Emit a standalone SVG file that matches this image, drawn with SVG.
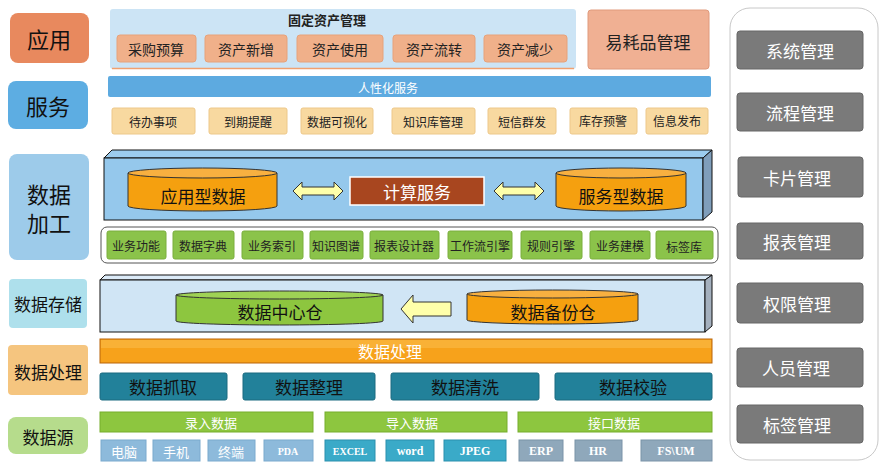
<svg xmlns="http://www.w3.org/2000/svg" width="882" height="467" viewBox="0 0 882 467">
<style>
text{font-family:"Noto Sans CJK SC","Noto Sans",sans-serif;text-anchor:middle;dominant-baseline:central}
.lab{fill:#111;font-size:22px}
.lab2{fill:#111;font-size:17px}
.btn{fill:#F0B08A;stroke:#E7A27A;stroke-width:1}
.svc{fill:#F8D9A0;stroke:#EDC88A;stroke-width:1}
.t14{font-size:14px;fill:#222}
.t12{font-size:12px;fill:#222}
.grn{fill:#8BC34A;stroke:#7AAE3C;stroke-width:1}
.teal{fill:#22819A;stroke:#1A6A80;stroke-width:1}
.gbar{fill:#8DC63F;stroke:#76AD2C;stroke-width:1}
.wt{fill:#fff;font-size:13px}
.en{font-family:"Liberation Serif",serif;font-weight:bold}
.mgr{fill:#7A7A7A;stroke:#666;stroke-width:1}
.arr{fill:#FFFFAA;stroke:#333;stroke-width:1}
</style>

<!-- left labels -->
<g id="lab-app"><rect x="10" y="13" width="79" height="50" rx="8" fill="#E8895E"/><text x="49" y="38" class="lab">应用</text></g>
<g id="lab-svc"><rect x="8" y="81" width="80" height="48" rx="8" fill="#5DADE2"/><text x="48" y="105" class="lab">服务</text></g>
<g id="lab-proc"><rect x="9" y="154" width="80" height="106" rx="8" fill="#9DCBEA"/><text x="49" y="193" class="lab">数据</text><text x="49" y="222" class="lab">加工</text></g>
<g id="lab-store"><rect x="9" y="279" width="78" height="49" rx="4" fill="#AEE0EC"/><text x="48" y="303" class="lab2">数据存储</text></g>
<g id="lab-handle"><rect x="8" y="345" width="80" height="50" rx="4" fill="#F5C57F"/><text x="48" y="371" class="lab2">数据处理</text></g>
<g id="lab-src"><rect x="8" y="417" width="80" height="37" rx="8" fill="#B6DC8C"/><text x="48" y="436" class="lab2">数据源</text></g>

<!-- application layer -->
<g id="fixed-asset">
<rect x="110" y="9" width="466" height="60" rx="3" fill="#CCE4F5"/>
<line x1="112" y1="68.5" x2="574" y2="68.5" stroke="#F0A070" stroke-width="1.5"/>
<text x="327" y="19" style="font-size:13px;font-weight:bold;fill:#222">固定资产管理</text>
<rect x="117" y="35" width="79" height="27" rx="3" class="btn"/><text x="156" y="49" class="t14">采购预算</text>
<rect x="205" y="35" width="82" height="27" rx="3" class="btn"/><text x="246" y="49" class="t14">资产新增</text>
<rect x="297" y="35" width="86" height="27" rx="3" class="btn"/><text x="340" y="49" class="t14">资产使用</text>
<rect x="393" y="35" width="82" height="27" rx="3" class="btn"/><text x="434" y="49" class="t14">资产流转</text>
<rect x="484" y="35" width="83" height="27" rx="3" class="btn"/><text x="525" y="49" class="t14">资产减少</text>
</g>
<g id="consumables"><rect x="588" y="10" width="121" height="59" rx="3" fill="#F0B093" stroke="#E09A7C"/><text x="648" y="41" style="font-size:17px;fill:#222">易耗品管理</text></g>

<!-- service layer -->
<g id="svc-bar"><rect x="108" y="76" width="603" height="21" rx="2" fill="#5DAAE0"/><text x="388" y="87" class="wt" style="font-size:12px">人性化服务</text></g>
<g id="svc-items">
<rect x="112" y="108" width="83" height="26" rx="2" class="svc"/><text x="153" y="121" class="t12">待办事项</text>
<rect x="209" y="108" width="78" height="26" rx="2" class="svc"/><text x="248" y="121" class="t12">到期提醒</text>
<rect x="301" y="108" width="72" height="26" rx="2" class="svc"/><text x="337" y="121" class="t12">数据可视化</text>
<rect x="392" y="108" width="83" height="26" rx="2" class="svc"/><text x="433" y="121" class="t12">知识库管理</text>
<rect x="488" y="108" width="68" height="26" rx="2" class="svc"/><text x="522" y="121" class="t12">短信群发</text>
<rect x="570" y="108" width="67" height="26" rx="2" class="svc"/><text x="603" y="120" class="t12">库存预警</text>
<rect x="646" y="108" width="62" height="26" rx="2" class="svc"/><text x="677" y="120" class="t12">信息发布</text>
</g>

<!-- data processing 3D box -->
<g id="proc-box">
<polygon points="104,158 112,150 712,150 703,158" fill="#9CCCEE" stroke="#111" stroke-width="1"/>
<rect x="104" y="158" width="599" height="62" fill="#95C8EC" stroke="#111" stroke-width="1"/>
<polygon points="703,158 712,150 712,212 703,220" fill="#7F9EBB" stroke="#111" stroke-width="1"/>
</g>
<g id="cyl-app">
<path d="M128,173 L128,206 A74.5,5 0 0 0 277,206 L277,173 Z" fill="#F5A00F" stroke="#333"/>
<ellipse cx="202.5" cy="173" rx="74.5" ry="5" fill="#F8B040" stroke="#333"/>
<text x="203" y="195" style="font-size:17px;fill:#111">应用型数据</text>
</g>
<g id="compute"><rect x="350" y="177" width="134" height="28" fill="#A8461F" stroke="#fff" stroke-width="1.5"/><text x="417" y="191" style="font-size:17px;fill:#fff">计算服务</text></g>
<g id="cyl-svc">
<path d="M556,173 L556,206 A65,5 0 0 0 686,206 L686,173 Z" fill="#F5A00F" stroke="#333"/>
<ellipse cx="621" cy="173" rx="65" ry="5" fill="#F8B040" stroke="#333"/>
<text x="621" y="195" style="font-size:17px;fill:#111">服务型数据</text>
</g>

<!-- tool row -->
<g id="tools">
<rect x="101" y="227" width="617" height="36" rx="6" fill="#fff" stroke="#555" stroke-width="1"/>
<rect x="107" y="231" width="59" height="28" rx="2" class="grn"/><text x="136" y="245" class="t12">业务功能</text>
<rect x="173" y="231" width="61" height="28" rx="2" class="grn"/><text x="203" y="245" class="t12">数据字典</text>
<rect x="242" y="231" width="61" height="28" rx="2" class="grn"/><text x="272" y="245" class="t12">业务索引</text>
<rect x="310" y="231" width="53" height="28" rx="2" class="grn"/><text x="336" y="245" class="t12">知识图谱</text>
<rect x="370" y="231" width="69" height="28" rx="2" class="grn"/><text x="404" y="245" class="t12">报表设计器</text>
<rect x="448" y="231" width="64" height="28" rx="2" class="grn"/><text x="480" y="245" class="t12">工作流引擎</text>
<rect x="521" y="231" width="61" height="28" rx="2" class="grn"/><text x="551" y="245" class="t12">规则引擎</text>
<rect x="590" y="231" width="60" height="28" rx="2" class="grn"/><text x="620" y="245" class="t12">业务建模</text>
<rect x="656" y="231" width="57" height="28" rx="2" class="grn"/><text x="684" y="246" class="t12">标签库</text>
</g>

<!-- storage 3D box -->
<g id="store-box">
<polygon points="100,280 105,275 712,275 705,280" fill="#DCEBF8" stroke="#111" stroke-width="1"/>
<rect x="100" y="280" width="605" height="52" fill="#D0E5F5" stroke="#111" stroke-width="1"/>
<polygon points="705,280 712,275 712,326 705,332" fill="#A4B0BE" stroke="#111" stroke-width="1"/>
</g>
<g id="cyl-center">
<path d="M176,295 L176,321 A103.5,4 0 0 0 383,321 L383,295 Z" fill="#8DC63F" stroke="#333"/>
<ellipse cx="279.5" cy="295" rx="103.5" ry="4" fill="#9FD255" stroke="#333"/>
<text x="280" y="311" style="font-size:17px;fill:#111">数据中心仓</text>
</g>
<g id="cyl-backup">
<path d="M467,294 L467,320 A85.5,4 0 0 0 638,320 L638,294 Z" fill="#F5A00F" stroke="#333"/>
<ellipse cx="552.5" cy="294" rx="85.5" ry="4" fill="#F8B040" stroke="#333"/>
<text x="553" y="311" style="font-size:17px;fill:#111">数据备份仓</text>
</g>

<!-- handling layer -->
<g id="handle-bar">
<rect x="100" y="339" width="612" height="24" fill="#F7A21B" stroke="#B9650A" stroke-width="1"/>
<rect x="101" y="340" width="610" height="8" fill="#FABA4A" opacity="0.6"/>
<text x="390" y="351" style="font-size:16px;fill:#fff">数据处理</text>
</g>
<g id="handle-items">
<rect x="100" y="373" width="127" height="27" rx="2" class="teal"/><text x="163" y="386" style="font-size:17px;fill:#111">数据抓取</text>
<rect x="243" y="373" width="132" height="27" rx="2" class="teal"/><text x="309" y="386" style="font-size:17px;fill:#111">数据整理</text>
<rect x="391" y="373" width="148" height="27" rx="2" class="teal"/><text x="465" y="386" style="font-size:17px;fill:#111">数据清洗</text>
<rect x="555" y="373" width="157" height="27" rx="2" class="teal"/><text x="633" y="386" style="font-size:17px;fill:#111">数据校验</text>
</g>

<!-- data source -->
<g id="src-bars">
<rect x="100" y="412" width="213" height="20" class="gbar"/><text x="211" y="422" class="wt">录入数据</text>
<rect x="325" y="412" width="182" height="20" class="gbar"/><text x="412" y="422" class="wt">导入数据</text>
<rect x="518" y="412" width="194" height="20" class="gbar"/><text x="614" y="422" class="wt">接口数据</text>
</g>
<g id="src-items">
<rect x="101" y="440" width="45" height="21" fill="#8DBADB" stroke="#7AAACE"/><text x="124" y="451" class="wt">电脑</text>
<rect x="153" y="440" width="47" height="21" fill="#8DBADB" stroke="#7AAACE"/><text x="176" y="451" class="wt">手机</text>
<rect x="208" y="440" width="47" height="21" fill="#8DBADB" stroke="#7AAACE"/><text x="231" y="451" class="wt">终端</text>
<rect x="264" y="440" width="49" height="21" fill="#8DBADB" stroke="#7AAACE"/><text x="288" y="451" class="wt en" style="font-size:10px">PDA</text>
<rect x="325" y="440" width="50" height="21" fill="#3AAAC8" stroke="#2A90AE"/><text x="350" y="451" class="wt en" style="font-size:10px">EXCEL</text>
<rect x="386" y="440" width="48" height="21" fill="#3AAAC8" stroke="#2A90AE"/><text x="410" y="451" class="wt en" style="font-size:12px">word</text>
<rect x="444" y="440" width="62" height="21" fill="#3AAAC8" stroke="#2A90AE"/><text x="475" y="451" class="wt en" style="font-size:12px">JPEG</text>
<rect x="519" y="440" width="44" height="21" fill="#8FA8BB" stroke="#7A93A8"/><text x="541" y="451" class="wt en" style="font-size:12px">ERP</text>
<rect x="575" y="440" width="47" height="21" fill="#8FA8BB" stroke="#7A93A8"/><text x="598" y="451" class="wt en" style="font-size:12px">HR</text>
<rect x="641" y="440" width="71" height="21" fill="#8FA8BB" stroke="#7A93A8"/><text x="676" y="451" class="wt en" style="font-size:12px">FS\UM</text>
</g>

<!-- right management column -->
<g id="mgmt">
<rect x="730" y="8" width="148" height="452" rx="20" fill="#fff" stroke="#C8C8C8" stroke-width="1"/>
<rect x="737" y="31" width="126" height="38" rx="3" class="mgr"/><text x="800" y="50" style="font-size:17px;fill:#fff">系统管理</text>
<rect x="737" y="93" width="126" height="38" rx="3" class="mgr"/><text x="800" y="112" style="font-size:17px;fill:#fff">流程管理</text>
<rect x="738" y="157" width="125" height="40" rx="3" class="mgr"/><text x="797" y="177" style="font-size:17px;fill:#fff">卡片管理</text>
<rect x="737" y="223" width="126" height="36" rx="3" class="mgr"/><text x="797" y="241" style="font-size:17px;fill:#fff">报表管理</text>
<rect x="737" y="283" width="126" height="40" rx="3" class="mgr"/><text x="797" y="303" style="font-size:17px;fill:#fff">权限管理</text>
<rect x="737" y="348" width="126" height="39" rx="3" class="mgr"/><text x="796" y="367" style="font-size:17px;fill:#fff">人员管理</text>
<rect x="737" y="405" width="126" height="38" rx="3" class="mgr"/><text x="797" y="424" style="font-size:17px;fill:#fff">标签管理</text>
</g>

<!-- connectors -->
<g id="connectors">
<polygon class="arr" points="293,191 302,182 302,187 334,187 334,182 343,191 334,200 334,195 302,195 302,200"/>
<polygon class="arr" points="494,191 503,182 503,187 535,187 535,182 544,191 535,200 535,195 503,195 503,200"/>
<polygon class="arr" points="401,309 413,295 413,302 451,302 451,316 413,316 413,323"/>
</g>
</svg>
